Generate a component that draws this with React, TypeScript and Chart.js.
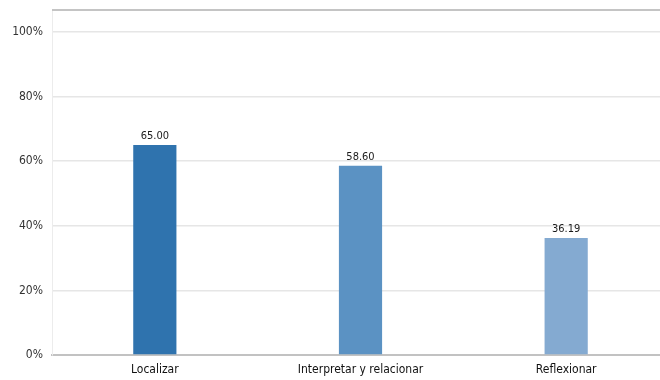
import React, { useEffect, useRef } from "react";
import { Chart, registerables } from "chart.js";

Chart.register(...registerables);

const categories = ["Localizar", "Interpretar y relacionar", "Reflexionar"];
const values = [65.0, 58.6, 36.19];
const barColors = ["#2F73AE", "#5B92C3", "#84AAD1"];
const yTickValues = [0, 20, 40, 60, 80, 100];

const FONT = "'DejaVu Sans Condensed', 'DejaVu Sans', sans-serif";

const labelsPlugin = {
  id: "valueLabels",
  afterDatasetsDraw(chart: any) {
    const ctx = chart.ctx;
    const meta = chart.getDatasetMeta(0);
    ctx.save();
    ctx.font = `11px ${FONT}`;
    ctx.fillStyle = "#1a1a1a";
    ctx.textAlign = "center";
    ctx.textBaseline = "bottom";
    meta.data.forEach((el: any, i: number) => {
      ctx.fillText(values[i].toFixed(2), el.x, el.y - 3);
    });
    ctx.restore();
  },
};

const topBorderPlugin = {
  id: "topBorder",
  afterDraw(chart: any) {
    const { ctx, chartArea } = chart;
    ctx.save();
    ctx.strokeStyle = "#c4c4c4";
    ctx.lineWidth = 2;
    ctx.beginPath();
    ctx.moveTo(chartArea.left, chartArea.top);
    ctx.lineTo(chartArea.right, chartArea.top);
    ctx.stroke();
    ctx.restore();
  },
};

export default function App() {
  const ref = useRef<HTMLCanvasElement>(null);
  useEffect(() => {
    document.body.style.margin = "0";
    document.body.style.overflow = "hidden";
    const chart = new Chart(ref.current!, {
      type: "bar",
      data: {
        labels: categories,
        datasets: [
          {
            data: values,
            backgroundColor: barColors,
            categoryPercentage: 1,
            barPercentage: 0.21,
          },
        ],
      },
      options: {
        animation: false,
        responsive: false,
        layout: { padding: { top: 10, right: 0, bottom: 0, left: 0 } },
        plugins: { legend: { display: false }, tooltip: { enabled: false } },
        scales: {
          x: {
            afterFit(scale: any) {
              scale.height = 25;
              scale.paddingLeft = 0;
              scale.paddingRight = 0;
            },
            grid: { display: false, drawTicks: false },
            border: { color: "#c2c2c2", width: 2 },
            ticks: { font: { family: FONT, size: 12 }, color: "#111", padding: 8 },
          },
          y: {
            min: 0,
            max: 106.8,
            afterBuildTicks(scale: any) {
              scale.ticks = yTickValues.map((v) => ({ value: v }));
            },
            afterFit(scale: any) {
              scale.width = 52;
              scale.paddingTop = 0;
              scale.paddingBottom = 0;
            },
            grid: { color: "#e6e6e6", lineWidth: 1.5, drawTicks: false },
            border: { color: "#ececec", width: 1 },
            ticks: {
              font: { family: FONT, size: 12 },
              color: "#333",
              padding: 9,
              callback: (v: any) => `${v}%`,
            },
          },
        },
      },
      plugins: [labelsPlugin, topBorderPlugin],
    });
    return () => chart.destroy();
  }, []);
  return (
    <div style={{ width: 660, height: 380, overflow: "hidden", position: "relative" }}>
      <canvas ref={ref} width={669} height={380} style={{ position: "absolute", left: 0, top: 0 }} />
    </div>
  );
}
